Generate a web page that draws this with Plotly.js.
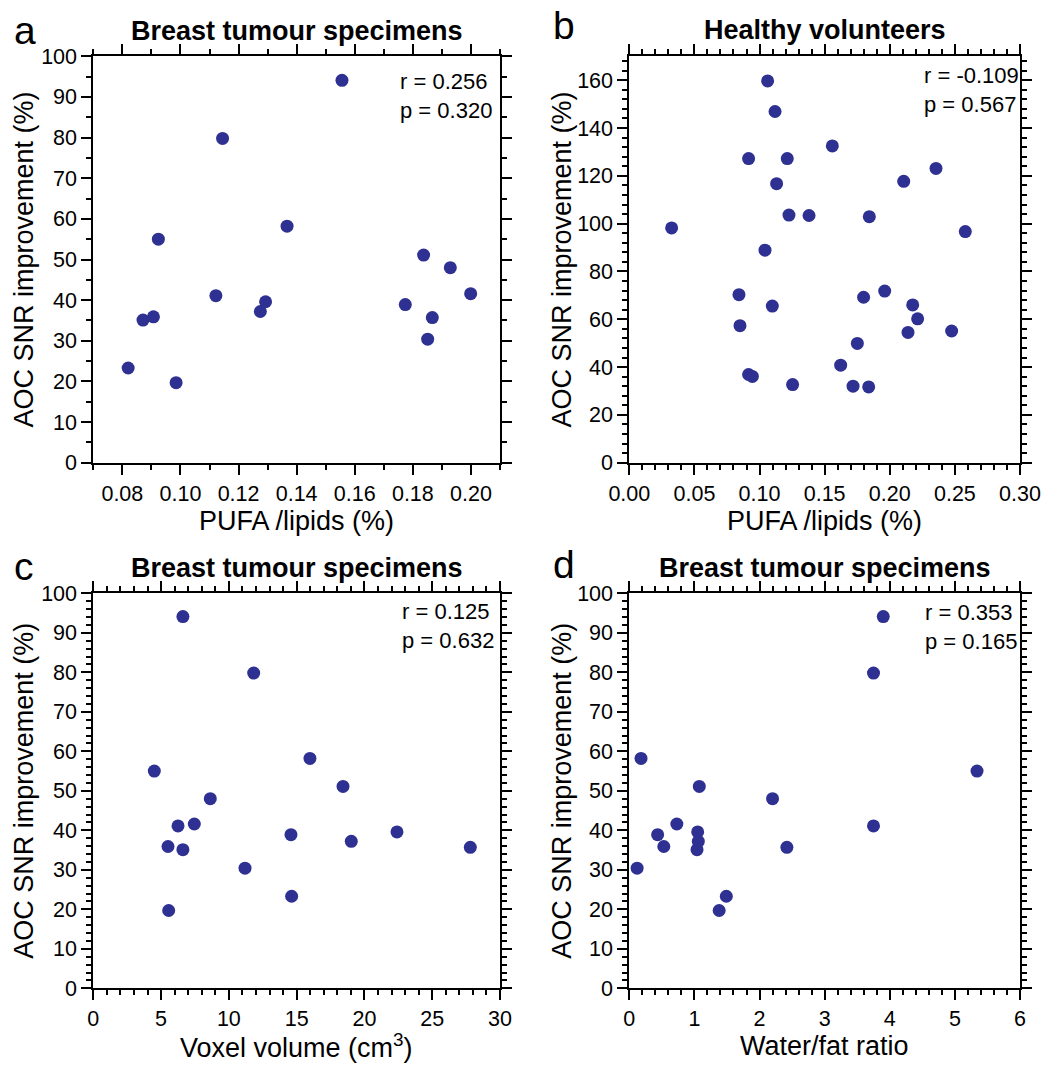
<!DOCTYPE html>
<html>
<head>
<meta charset="utf-8">
<script src="https://cdn.plot.ly/plotly-3.0.1.min.js"></script>
<style>html,body{margin:0;padding:0;background:#fff;}#chart{width:1063px;height:1078px;}</style>
</head>
<body>
<div id="chart"></div>
<script>
// Panel a: Breast tumour specimens, PUFA/lipids vs AOC SNR improvement
const xA = [0.1556, 0.1145, 0.0924, 0.1367, 0.1122, 0.1275, 0.1293, 0.0871, 0.0907, 0.0820, 0.0985, 0.1837, 0.1929, 0.1999, 0.1774, 0.1867, 0.1851];
const yA = [94.1, 79.8, 55.0, 58.2, 41.1, 37.2, 39.6, 35.1, 35.9, 23.3, 19.7, 51.1, 48.0, 41.6, 38.9, 35.7, 30.4];
// Panel b: Healthy volunteers
const xB = [0.1062, 0.1119, 0.1559, 0.0916, 0.1213, 0.2355, 0.2107, 0.1131, 0.1226, 0.1380, 0.1843, 0.0325, 0.2580, 0.1042, 0.0842, 0.1961, 0.1799, 0.1098, 0.2176, 0.2214, 0.0850, 0.2140, 0.2475, 0.1751, 0.1623, 0.0916, 0.0945, 0.1254, 0.1718, 0.1838];
const yB = [159.7, 146.9, 132.5, 127.2, 127.2, 123.1, 117.7, 116.7, 103.6, 103.4, 102.9, 98.2, 96.7, 88.9, 70.3, 71.8, 69.2, 65.5, 66.0, 60.2, 57.3, 54.5, 55.1, 49.9, 40.8, 36.9, 36.1, 32.7, 32.0, 31.7];
// Panel c: Voxel volume
const xC = [6.61, 11.83, 4.50, 15.98, 18.42, 8.63, 6.25, 7.45, 14.58, 19.03, 22.40, 27.81, 5.51, 6.61, 11.19, 14.63, 5.56];
const yC = [94.1, 79.8, 55.0, 58.2, 51.1, 48.0, 41.1, 41.6, 38.9, 37.2, 39.6, 35.7, 35.9, 35.1, 30.4, 23.3, 19.7];
// Panel d: Water/fat ratio
const xD = [3.90, 3.75, 5.34, 0.18, 1.075, 2.20, 3.75, 0.73, 0.435, 1.06, 1.05, 2.42, 0.53, 1.04, 0.12, 1.49, 1.38];
const yD = [94.1, 79.8, 55.0, 58.2, 51.1, 48.0, 41.1, 41.6, 38.9, 37.2, 39.6, 35.7, 35.9, 35.1, 30.4, 23.3, 19.7];

const panelLetters = ['a', 'b', 'c', 'd'];
const panelTitles = ['Breast tumour specimens', 'Healthy volunteers', 'Breast tumour specimens', 'Breast tumour specimens'];
const xTitles = ['PUFA /lipids (%)', 'PUFA /lipids (%)', 'Voxel volume (cm<sup>3</sup>)', 'Water/fat ratio'];
const yTitle = 'AOC SNR improvement (%)';
const statsText = ['r = 0.256<br>p = 0.320', 'r = -0.109<br>p = 0.567', 'r = 0.125<br>p = 0.632', 'r = 0.353<br>p = 0.165'];

const W = 1063, H = 1078;
const FONT = 'Liberation Sans, Arial, sans-serif';
const MARK = '#2E3192';
const px = v => v / W;
const py = v => 1 - v / H;

// plot boxes in pixels: [left, right, top, bottom]
const boxes = [
  [93.3, 500, 56.3, 462.7],
  [629.3, 1020, 56.3, 462.7],
  [93.3, 500, 593.3, 988.3],
  [629.3, 1020, 593.3, 988.3]
];

function axisBase(extra) {
  return Object.assign({
    showline: true, linecolor: '#000', linewidth: 2, mirror: 'ticks',
    ticks: 'outside', ticklen: 10, tickwidth: 2, tickcolor: '#000',
    showgrid: false, zeroline: false, fixedrange: true,
    tickfont: {family: FONT, size: 21.5, color: '#000'}
  }, extra);
}
function minor(d) {
  return {ticks: 'outside', ticklen: 5, tickwidth: 2, tickcolor: '#000', dtick: d, showgrid: false};
}

const traces = [
  {x: xA, y: yA, xaxis: 'x', yaxis: 'y'},
  {x: xB, y: yB, xaxis: 'x2', yaxis: 'y2'},
  {x: xC, y: yC, xaxis: 'x3', yaxis: 'y3'},
  {x: xD, y: yD, xaxis: 'x4', yaxis: 'y4'}
].map(t => Object.assign(t, {
  type: 'scatter', mode: 'markers', showlegend: false,
  marker: {color: MARK, size: 13, line: {width: 0}}
}));

const layout = {
  width: W, height: H,
  margin: {l: 0, r: 0, t: 0, b: 0},
  paper_bgcolor: '#fff', plot_bgcolor: '#fff',
  font: {family: FONT, color: '#000'},
  xaxis: axisBase({domain: [px(boxes[0][0]), px(boxes[0][1])], range: [0.07, 0.21], tick0: 0.08, dtick: 0.02, tickformat: '.2f', minor: minor(0.01), anchor: 'y'}),
  yaxis: axisBase({domain: [py(boxes[0][3]), py(boxes[0][2])], range: [0, 100], dtick: 10, minor: minor(5), anchor: 'x'}),
  xaxis2: axisBase({domain: [px(boxes[1][0]), px(boxes[1][1])], range: [0, 0.30], dtick: 0.05, tickformat: '.2f', minor: minor(0.01), anchor: 'y2'}),
  yaxis2: axisBase({domain: [py(boxes[1][3]), py(boxes[1][2])], range: [0, 170], dtick: 20, minor: minor(4), anchor: 'x2'}),
  xaxis3: axisBase({domain: [px(boxes[2][0]), px(boxes[2][1])], range: [0, 30], dtick: 5, minor: minor(1), anchor: 'y3'}),
  yaxis3: axisBase({domain: [py(boxes[2][3]), py(boxes[2][2])], range: [0, 100], dtick: 10, minor: minor(2), anchor: 'x3'}),
  xaxis4: axisBase({domain: [px(boxes[3][0]), px(boxes[3][1])], range: [0, 6], dtick: 1, minor: minor(0.2), anchor: 'y4'}),
  yaxis4: axisBase({domain: [py(boxes[3][3]), py(boxes[3][2])], range: [0, 100], dtick: 10, minor: minor(2), anchor: 'x4'}),
  annotations: []
};

const letterPos = [[12, 30], [551, 26], [12, 566], [551, 564]];
const statsPos = [[398, 67], [921.7, 61], [400, 597], [923.3, 597.5]];
const titleY = [31, 30, 568, 568];
const yTitleX = [24, 562, 24, 562];

boxes.forEach((b, i) => {
  const cx = (b[0] + b[1]) / 2, cy = (b[2] + b[3]) / 2;
  layout.annotations.push({
    text: '<b>' + panelTitles[i] + '</b>', xref: 'paper', yref: 'paper',
    x: px(cx), y: py(titleY[i]), xanchor: 'center', yanchor: 'middle', showarrow: false,
    font: {family: FONT, size: 27, color: '#000'}
  });
  layout.annotations.push({
    text: panelLetters[i], xref: 'paper', yref: 'paper',
    x: px(letterPos[i][0]), y: py(letterPos[i][1]), xanchor: 'left', yanchor: 'middle', showarrow: false,
    font: {family: FONT, size: 39, color: '#000'}
  });
  layout.annotations.push({
    text: xTitles[i], xref: 'paper', yref: 'paper',
    x: px(cx), y: py(b[3] + 58), xanchor: 'center', yanchor: 'middle', showarrow: false,
    font: {family: FONT, size: 27, color: '#000'}
  });
  layout.annotations.push({
    text: yTitle, xref: 'paper', yref: 'paper', textangle: -90,
    x: px(yTitleX[i]), y: py(cy), xanchor: 'center', yanchor: 'middle', showarrow: false,
    font: {family: FONT, size: 27, color: '#000'}
  });
  layout.annotations.push({
    text: statsText[i], xref: 'paper', yref: 'paper', align: 'left',
    x: px(statsPos[i][0]), y: py(statsPos[i][1]), xanchor: 'left', yanchor: 'top', showarrow: false,
    font: {family: FONT, size: 22, color: '#000'}
  });
});

Plotly.newPlot('chart', traces, layout, {displayModeBar: false, staticPlot: true});
</script>
</body>
</html>
